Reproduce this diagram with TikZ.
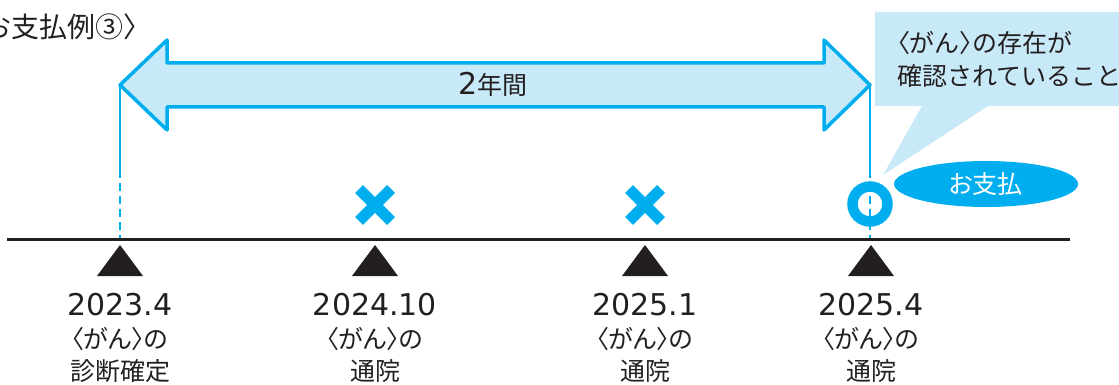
\documentclass[tikz,border=0pt]{standalone}
\usepackage{fontspec}
\newfontfamily\jp[RawFeature=+palt]{Noto Sans CJK JP}
\newfontfamily\jpf{Noto Sans CJK JP}
\newfontfamily\num{DejaVu Sans}
\usetikzlibrary{shapes.geometric}
\definecolor{cyanb}{RGB}{0,174,239}
\definecolor{lightb}{RGB}{200,233,248}
\definecolor{ink}{RGB}{35,31,32}
\begin{document}
\begin{tikzpicture}[x=1pt,y=-1pt,
  jtext/.style={text=ink,inner sep=0pt,font=\jp\fontsize{25}{30}\selectfont},
  jfull/.style={text=ink,inner sep=0pt,font=\jpf\fontsize{25}{30}\selectfont},
  ntext/.style={text=ink,inner sep=0pt,font=\num\fontsize{30}{34}\selectfont},
  bigarrow/.style={draw=cyanb,fill=lightb,line width=3.5pt,line join=round},
  guide/.style={draw=cyanb,line width=1.6pt},
  guidedash/.style={guide,dash pattern=on 8pt off 5pt},
  tline/.style={draw=ink,line width=3pt},
  tri/.style={fill=ink},
  crossmark/.style={draw=cyanb,line width=11pt},
  ringmark/.style={circle,draw=cyanb,fill=white,line width=10.5pt,minimum size=35pt,inner sep=0pt},
  paybubble/.style={ellipse,fill=cyanb,minimum width=184pt,minimum height=46pt,inner sep=0pt,text=white,font=\jp\fontsize{25}{30}\selectfont},
  callout/.style={fill=lightb}
]
\useasboundingbox (0,0) rectangle (1119,385);

% title
\node[jfull,font=\jpf\fontsize{28}{32}\selectfont,anchor=base east] (title) at (152,38) {〈お支払例③〉};

% callout
\path[callout] (875,12) -- (1130,12) -- (1130,106) -- (988,106) -- (883,175) -- (922,106) -- (875,106) -- cycle;
\node[jfull,anchor=base west] (c1) at (897,53) {{\jp 〈}がん{\jp 〉}の存在が};
\node[jfull,anchor=base west] (c2) at (897,86) {確認されていること};

% double arrow
\coordinate (aL) at (120,85);
\coordinate (aR) at (870,85);
\path[bigarrow] (aL) -- (167,40) -- (167,63) -- (824,63) -- (824,40) -- (aR) -- (824,130) -- (824,107) -- (167,107) -- (167,130) -- cycle;
\node[jtext,anchor=base] (span) at (493,95) {{\num\fontsize{30}{34}\selectfont 2}年間};

% timeline
\coordinate (tlL) at (7,239);
\coordinate (tlR) at (1070,239);
\draw[tline] (tlL) -- (tlR);

% guide lines
\coordinate (g1) at (120,170);
\coordinate (g1b) at (120,238);
\coordinate (g4) at (870,170);
\coordinate (g4b) at (870,238);
\draw[guide] (aL) -- (g1);
\draw[guidedash] (g1) -- (g1b);
\draw[guide] (aR) -- (g4);

% ring marker
\node[ringmark] (ring) at (870,204) {};
\draw[guidedash] (g4) -- (g4b);

% pay bubble
\node[paybubble] (pay) at (986,184) {お支払};

% crosses
\node[inner sep=0pt] (x2) at (375,205) {};
\node[inner sep=0pt] (x3) at (645,205) {};
\foreach \c in {x2,x3}{
  \draw[crossmark] (\c.center) ++(-16,-16) -- ++(32,32);
  \draw[crossmark] (\c.center) ++(-16,16) -- ++(32,-32);
}

% triangles
\coordinate (t1) at (120,245);
\coordinate (t2) at (375,245);
\coordinate (t3) at (645,245);
\coordinate (t4) at (871,245);
\foreach \t in {t1,t2,t3,t4}{
  \fill[tri] (\t) -- ++(23,31) -- ++(-46,0) -- cycle;
}

% labels
\node[ntext,anchor=base] (d1) at (120,315) {2023.4};
\node[jtext,anchor=base] (e1) at (120,348) {〈がん〉の};
\node[jtext,anchor=base] (f1) at (120,380) {診断確定};

\node[ntext,anchor=base] (d2) at (375,315) {2024.10};
\node[jtext,anchor=base] (e2) at (375,348) {〈がん〉の};
\node[jtext,anchor=base] (f2) at (375,380) {通院};

\node[ntext,anchor=base] (d3) at (645,315) {2025.1};
\node[jtext,anchor=base] (e3) at (645,348) {〈がん〉の};
\node[jtext,anchor=base] (f3) at (645,380) {通院};

\node[ntext,anchor=base] (d4) at (871,315) {2025.4};
\node[jtext,anchor=base] (e4) at (871,348) {〈がん〉の};
\node[jtext,anchor=base] (f4) at (871,380) {通院};
\end{tikzpicture}
\end{document}
